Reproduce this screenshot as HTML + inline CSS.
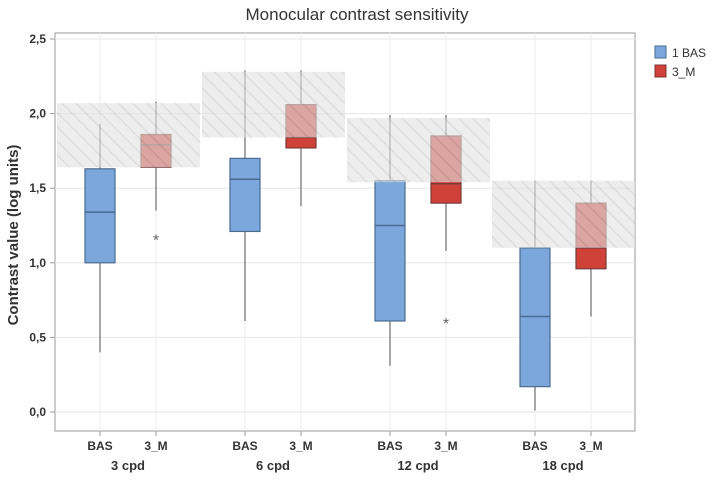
<!DOCTYPE html>
<html><head><meta charset="utf-8"><style>
body{margin:0;background:#fff;font-family:"Liberation Sans",sans-serif}
</style></head><body>
<svg id="c" width="714" height="477" xmlns="http://www.w3.org/2000/svg">
<defs><pattern id="hatch" width="10" height="10" patternUnits="userSpaceOnUse" patternTransform="rotate(-45)">
<rect width="10" height="10" fill="#e2e2e2"/><line x1="0" y1="0" x2="0" y2="10" stroke="#cacaca" stroke-width="3"/></pattern></defs>
<text x="357" y="20" text-anchor="middle" font-size="17" fill="#333">Monocular contrast sensitivity</text>
<rect x="55" y="33" width="580" height="398" fill="none" stroke="#999"/>
<g id="g"></g>
<text transform="translate(18,235) rotate(-90)" text-anchor="middle" font-size="15" fill="#333" font-weight="bold">Contrast value (log units)</text>
<rect x="655" y="46" width="11" height="12" fill="#7ba7dc" stroke="#4a6a90"/>
<text x="672" y="57" font-size="12" fill="#333">1 BAS</text>
<rect x="655" y="65" width="11" height="12" fill="#d0413a" stroke="#803030"/>
<text x="672" y="76" font-size="12" fill="#333">3_M</text>
</svg>
<script>
const groups=["3 cpd","6 cpd","12 cpd","18 cpd"];
const series=["BAS","3_M"];
const yTicks=[0,0.5,1,1.5,2,2.5];
const yTickLabels=["0,0","0,5","1,0","1,5","2,0","2,5"];
const wLow=[[0.40,1.35],[0.61,1.38],[0.31,1.08],[0.01,0.64]];
const q1=[[1.00,1.64],[1.21,1.77],[0.61,1.40],[0.17,0.96]];
const med=[[1.34,1.79],[1.56,1.84],[1.25,1.53],[0.64,1.10]];
const q3=[[1.63,1.86],[1.70,2.06],[1.55,1.85],[1.10,1.40]];
const wHigh=[[1.93,2.08],[2.29,2.29],[1.99,1.99],[1.55,1.55]];
const outliers=[[[],[1.17]],[[],[]],[[],[0.61]],[[],[]]];
const bandLow=[1.64,1.84,1.54,1.10];
const bandHigh=[2.07,2.28,1.97,1.55];
const NS="http://www.w3.org/2000/svg";
const g=document.getElementById('g');
const y=v=>412-v*149.2;
const gx=i=>55+i*145;
const x=(i,j)=>gx(i)+45+j*56;
function mk(t,a,p){const e=document.createElementNS(NS,t);for(const k in a)e.setAttribute(k,a[k]);(p||g).appendChild(e);return e;}
yTicks.forEach((v,k)=>{
 const l=mk('line',{x1:55,x2:635,y1:y(v),y2:y(v),stroke:'#e6e6e6'});
 
 
 const tk=mk('line',{x1:50,x2:55,y1:y(v),y2:y(v),stroke:'#999'});
 
 
 const t=mk('text',{x:46,y:y(v)+4,'text-anchor':'end','font-size':12,fill:'#333','font-weight':'bold'});t.textContent=yTickLabels[k];
 
 
});
groups.forEach((gn,i)=>series.forEach((s,j)=>{
 const l=mk('line',{x1:x(i,j),x2:x(i,j),y1:33,y2:431,stroke:'#ececec'});
 
 
}));
groups.forEach((gn,i)=>{
 series.forEach((s,j)=>{
  const cx=x(i,j),fill=j?'#d0413a':'#7ba7dc',st=j?'#7a3a36':'#4a6a90';
  const w=mk('line',{x1:cx,x2:cx,y1:y(wHigh[i][j]),y2:y(wLow[i][j]),stroke:'#777','stroke-width':1.3});
  
  
  const b=mk('rect',{x:cx-15,y:y(q3[i][j]),width:30,height:y(q1[i][j])-y(q3[i][j]),fill:fill,stroke:st,'stroke-width':1.2});
  
  
  const m=mk('line',{x1:cx-15,x2:cx+15,y1:y(med[i][j]),y2:y(med[i][j]),stroke:st,'stroke-width':1.5});
  
  
  outliers[i][j].forEach(o=>{
   const t=mk('text',{x:cx,y:y(o)+8,'text-anchor':'middle','font-size':16,fill:'#666'});t.textContent='*';
   
   
  });
  const tk=mk('line',{x1:cx,x2:cx,y1:431,y2:436,stroke:'#999'});
  
  
  const t=mk('text',{x:cx,y:450,'text-anchor':'middle','font-size':12,fill:'#333','font-weight':'bold'});t.textContent=s;
  
  
 });
 const band=mk('rect',{x:gx(i)+2,y:y(bandHigh[i]),width:143,height:y(bandLow[i])-y(bandHigh[i]),fill:'url(#hatch)',opacity:0.62});
 
 
 const gl=mk('text',{x:(x(i,0)+x(i,1))/2,y:470,'text-anchor':'middle','font-size':13,fill:'#333','font-weight':'bold'});gl.textContent=gn;
 
 
});
</script>
</body></html>
